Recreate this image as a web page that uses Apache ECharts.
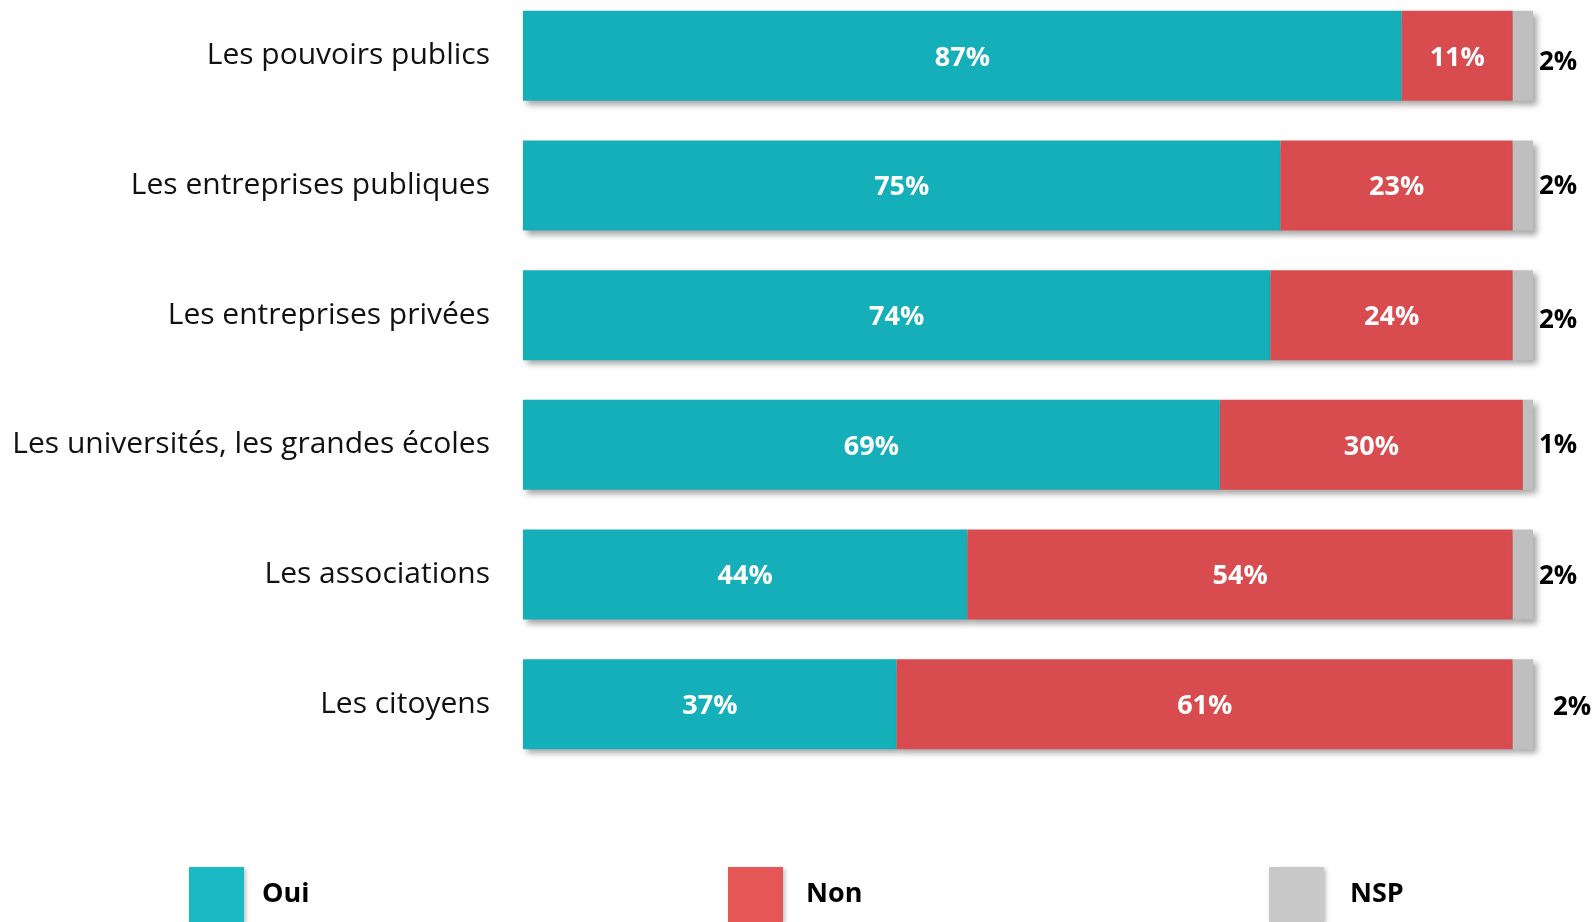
<!DOCTYPE html>
<html><head><meta charset="utf-8">
<script src="https://cdn.jsdelivr.net/npm/echarts@6/dist/echarts.min.js"></script>
<style>html,body{margin:0;padding:0;background:#fff;overflow:hidden}#c{width:1595px;height:932px;margin-top:-10px}</style>
</head><body><div id="c"></div>
<script>
const categories = ["Les pouvoirs publics","Les entreprises publiques","Les entreprises privées","Les universités, les grandes écoles","Les associations","Les citoyens"];
const oui = [87,75,74,69,44,37];
const non = [11,23,24,30,54,61];
const nsp = [2,2,2,1,2,2];
const seriesNames = ["Oui","Non","NSP"];

const FONT = "Open Sans";
const shadow = {shadowBlur:6, shadowOffsetX:4, shadowOffsetY:4, shadowColor:'rgba(0,0,0,0.35)'};
const barColors = ['#14AFB8','#D84C4F','#BFBFBF'];
const legendColors = ['#1ABAC4','#E55757','#C8C8C8'];
const legendLeft = [189,728,1269];
const legendTextGap = [13,18,21];
const nspLabelOffsets = [[0,7],[0,1],[0,5],[0,1],[0,2],[14,3]];
const chart = echarts.init(document.getElementById('c'));
const inLabel = {show:true, position:'inside', offset:[0,2], color:'#fff', fontFamily:FONT, fontWeight:'bold', fontSize:27, formatter:p=>p.value+'%'};
chart.setOption({
  animation:false,
  grid:{left:523, right:62, top:1, bottom:153},
  xAxis:{type:'value', min:0, max:100, show:false},
  yAxis:{type:'category', data:categories, inverse:true,
    axisLine:{show:false}, axisTick:{show:false},
    axisLabel:{margin:33, color:'#111', fontFamily:FONT, fontSize:30, lineHeight:34, padding:[10,0,0,0]}},
  legend:[0,1,2].map(i=>({data:[{name:seriesNames[i], itemStyle:{color:legendColors[i], shadowBlur:4, shadowOffsetX:2, shadowOffsetY:2, shadowColor:'rgba(0,0,0,0.25)'}}],
    left:legendLeft[i], top:877, padding:0,
    itemWidth:55, itemHeight:55, itemGap:0, icon:'rect',
    textStyle:{fontFamily:FONT, fontWeight:'bold', fontSize:27, color:'#000', lineHeight:30, padding:[14,0,0,legendTextGap[i]]}})),
  series:[0,1,2].map(i=>{
    const vals = [oui,non,nsp][i];
    const s = {name:seriesNames[i], type:'bar', stack:'a', barWidth:90,
      itemStyle:Object.assign({color:barColors[i]},shadow)};
    if(i<2){ s.data = vals; s.label = inLabel; }
    else {
      s.data = vals.map((v,k)=> ({value:v, label:{offset:nspLabelOffsets[k]}}));
      s.label = {show:true, position:'right', distance:6, color:'#000', fontFamily:FONT, fontWeight:'bold', fontSize:26, formatter:p=>p.value+'%'};
    }
    return s;
  })
});
</script></body></html>
